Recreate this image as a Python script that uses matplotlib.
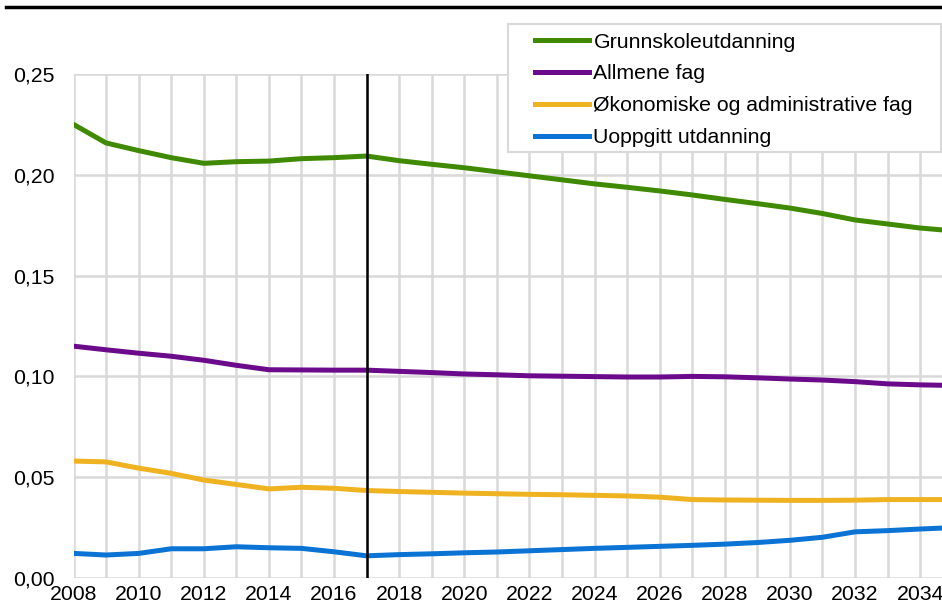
import numpy as np
import matplotlib.pyplot as plt
from matplotlib.patches import Rectangle

plt.rcParams['font.family'] = ['Liberation Sans', 'DejaVu Sans']

years = list(range(2008, 2036))
grunnskole = [0.2250, 0.2158, 0.2120, 0.2085, 0.2057, 0.2065, 0.2068, 0.2080, 0.2085, 0.2093,
              0.2070, 0.2052, 0.2035, 0.2015, 0.1995, 0.1975, 0.1955, 0.1938, 0.1920, 0.1900,
              0.1878, 0.1857, 0.1835, 0.1808, 0.1776, 0.1756, 0.1736, 0.1722]
allmene = [0.1150, 0.1132, 0.1115, 0.1100, 0.1080, 0.1055, 0.1033, 0.1032, 0.1031, 0.1031,
           0.1025, 0.1019, 0.1012, 0.1008, 0.1003, 0.1001, 0.0999, 0.0997, 0.0997, 0.1000,
           0.0998, 0.0993, 0.0987, 0.0982, 0.0974, 0.0963, 0.0958, 0.0955]
okonomi = [0.0580, 0.0576, 0.0545, 0.0519, 0.0486, 0.0464, 0.0442, 0.0450, 0.0445, 0.0434,
           0.0429, 0.0425, 0.0421, 0.0418, 0.0415, 0.0413, 0.0410, 0.0407, 0.0401, 0.0389,
           0.0387, 0.0386, 0.0385, 0.0385, 0.0386, 0.0389, 0.0389, 0.0389]
uoppgitt = [0.0122, 0.0114, 0.0122, 0.0145, 0.0145, 0.0155, 0.0150, 0.0147, 0.0130, 0.0110,
            0.0116, 0.0120, 0.0125, 0.0129, 0.0135, 0.0141, 0.0147, 0.0152, 0.0157, 0.0162,
            0.0168, 0.0176, 0.0187, 0.0202, 0.0229, 0.0235, 0.0243, 0.0250]

labels = ['Grunnskoleutdanning', 'Allmene fag', 'Økonomiske og administrative fag', 'Uoppgitt utdanning']
colors = ['#3f8a00', '#6b0a8b', '#efb321', '#0a73d3']

W, H = 942, 603
fig = plt.figure(figsize=(W / 100, H / 100), dpi=100)
ax = fig.add_axes([73.5 / W, 25 / H, 1 - 73.5 / W, 504 / H])

for s, lab, c in zip([grunnskole, allmene, okonomi, uoppgitt], labels, colors):
    ax.plot(years, s, color=c, lw=3.6, label=lab, solid_joinstyle='round', zorder=3)

ax.axvline(2017, color='black', lw=1.8, zorder=4)

ax.set_xlim(2008, 2034.67)
ax.set_ylim(0, 0.25)
ax.set_xticks(range(2008, 2035, 2))
ax.set_xticks(range(2008, 2035), minor=True)
ax.set_yticks([0, 0.05, 0.10, 0.15, 0.20, 0.25])
ax.set_yticklabels(['0,00', '0,05', '0,10', '0,15', '0,20', '0,25'])
ax.grid(True, which='both', axis='x', color='#d9d9d9', lw=1.8)
ax.grid(True, which='major', axis='y', color='#d9d9d9', lw=1.8)
ax.tick_params(which='both', length=0, labelsize=15.3)
ax.tick_params(axis='x', pad=5)
ax.tick_params(axis='y', pad=13.5)
for sp in ax.spines.values():
    sp.set_visible(False)

# legende: ramme tegnes for seg
boks = Rectangle((508 / W, 1 - 152 / H), (941 - 508) / W, 128 / H, transform=fig.transFigure,
                 facecolor='white', edgecolor='#d9d9d9', lw=1.5, zorder=5, clip_on=False)
ax.add_patch(boks)
leg = ax.legend(loc='upper left', bbox_to_anchor=(535 / W, 1 - 32.5 / H),
                bbox_transform=fig.transFigure, fontsize=15.3, frameon=False,
                handlelength=2.55, handletextpad=0.2, labelspacing=0.61, borderpad=0,
                borderaxespad=0)
leg.set_zorder(6)

# topp-linje
fig.add_artist(plt.Line2D([6 / W, 1], [1 - 6.5 / H, 1 - 6.5 / H], color='black', lw=2.5))

fig.savefig('out.png', dpi=100)
